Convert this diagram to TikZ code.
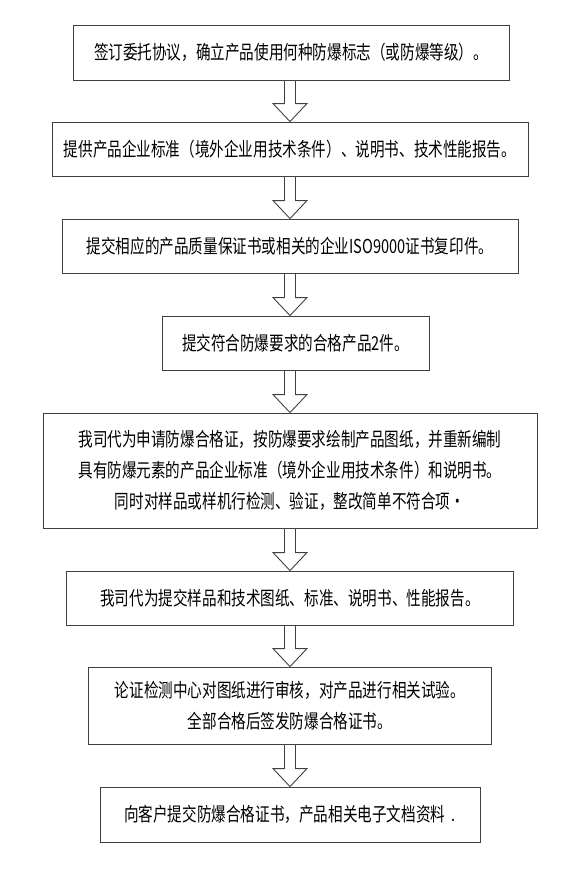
\documentclass[tikz,border=0pt]{standalone}
\usepackage{fontspec}
\usepackage{xcolor}
\usepackage{tikz}
\usetikzlibrary{calc}
\newfontfamily\cjk[FakeStretch=0.76]{Noto Sans CJK SC}
\definecolor{boxline}{gray}{0.25}

\begin{document}
\begin{tikzpicture}[x=1pt, y=1pt,
    stagebox/.style={draw=boxline, line width=0.9pt, inner sep=0pt, align=center,
      font=\cjk\fontsize{19.2}{31}\selectfont},
    hollowarrow/.style={draw=boxline, line width=0.9pt, line join=miter}]
  \useasboundingbox (0,0) rectangle (572,-871);

  % common axis of the arrows
  \coordinate (axis) at (290,0);

  % process stages
  \node[stagebox, minimum width=436, minimum height=55] (s1) at (291,-52.5)
    {签订委托协议，确立产品使用何种防爆标志（或防爆等级）。};
  \node[stagebox, minimum width=476, minimum height=54] (s2) at (290,-149)
    {提供产品企业标准（境外企业用技术条件）、说明书、技术性能报告。};
  \node[stagebox, minimum width=456, minimum height=54] (s3) at (290,-246)
    {提交相应的产品质量保证书或相关的企业ISO9000证书复印件。};
  \node[stagebox, minimum width=267, minimum height=54] (s4) at (295.5,-343)
    {提交符合防爆要求的合格产品2件。};
  \node[stagebox, minimum width=494, minimum height=115] (s5) at (290,-470.5)
    {我司代为申请防爆合格证，按防爆要求绘制产品图纸，并重新编制\\
     具有防爆元素的产品企业标准（境外企业用技术条件）和说明书。\\
     同时对样品或样机行检测、验证，整改简单不符合项·};
  \node[stagebox, minimum width=447, minimum height=54] (s6) at (290,-598)
    {我司代为提交样品和技术图纸、标准、说明书、性能报告。};
  \node[stagebox, minimum width=403, minimum height=77] (s7) at (290,-705.5)
    {论证检测中心对图纸进行审核，对产品进行相关试验。\\
     全部合格后签发防爆合格证书。};
  \node[stagebox, minimum width=380, minimum height=55] (s8) at (290,-814.5)
    {向客户提交防爆合格证书，产品相关电子文档资料\ \ .};

  % hollow block arrows between stages
  \foreach \a/\b in {s1/s2, s2/s3, s3/s4, s4/s5, s5/s6, s6/s7, s7/s8} {
    \draw[hollowarrow] ($(\a.south -| axis)+(-5.5,0)$) -- ($(\b.north -| axis)+(-5.5,18)$)
      -- ++(-11.5,0) -- (\b.north -| axis) -- ($(\b.north -| axis)+(17,18)$)
      -- ++(-11.5,0) -- ($(\a.south -| axis)+(5.5,0)$);
  }
\end{tikzpicture}
\end{document}
